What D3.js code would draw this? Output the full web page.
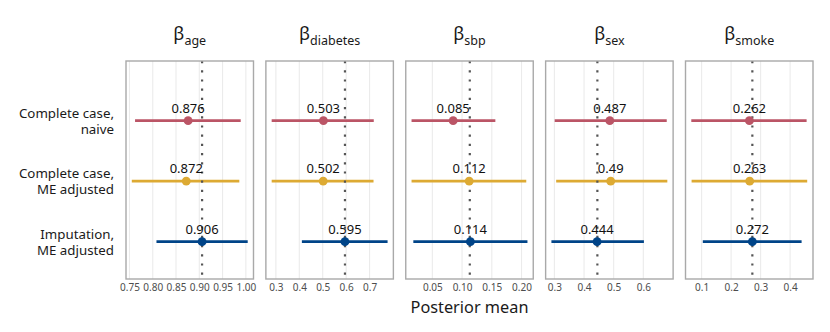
<!DOCTYPE html>
<html>
<head>
<meta charset="utf-8">
<script src="https://cdn.jsdelivr.net/npm/d3@7"></script>
<style>
    body { margin: 0; background: #fff; }
    text { font-family: "Noto Sans", "Open Sans", sans-serif; }
</style>
</head>
<body>
<div class="chart"></div>
<script>
const WIDTH = 830;
const HEIGHT = 332;

// parameters (one facet each)
const params = ["age", "diabetes", "sbp", "sex", "smoke"];

// methods (rows, top to bottom)
const methods = ["cc_naive", "cc_me", "imp_me"];
const methodLabels = [["Complete case,", "naive"], ["Complete case,", "ME adjusted"], ["Imputation,", "ME adjusted"]];
const methodColors = ["#BB5566", "#DDAA33", "#004488"];

// posterior means, per method, in params order
const meanNaive = [0.876, 0.503, 0.085, 0.487, 0.262];
const meanCcMe = [0.872, 0.502, 0.112, 0.49, 0.263];
const meanImpMe = [0.906, 0.595, 0.114, 0.444, 0.272];

// credible interval bounds
const lowerNaive = [0.762, 0.282, 0.015, 0.301, 0.065];
const upperNaive = [0.989, 0.718, 0.156, 0.679, 0.456];
const lowerCcMe = [0.755, 0.282, 0.015, 0.306, 0.066];
const upperCcMe = [0.986, 0.717, 0.208, 0.681, 0.458];
const lowerImpMe = [0.808, 0.411, 0.018, 0.290, 0.104];
const upperImpMe = [1.004, 0.777, 0.210, 0.602, 0.439];

// reference (dotted) values
const trueValues = [0.906, 0.595, 0.113, 0.445, 0.272];

// tick labels per facet
const tickValues = [
    [0.75, 0.80, 0.85, 0.90, 0.95, 1.00],
    [0.3, 0.4, 0.5, 0.6, 0.7],
    [0.05, 0.10, 0.15, 0.20],
    [0.3, 0.4, 0.5, 0.6],
    [0.1, 0.2, 0.3, 0.4]
];
const tickFormats = [".2f", ".1f", ".2f", ".1f", ".1f"];

const means = [meanNaive, meanCcMe, meanImpMe];
const lowers = [lowerNaive, lowerCcMe, lowerImpMe];
const uppers = [upperNaive, upperCcMe, upperImpMe];

const margin = { top: 61, right: 17, bottom: 53, left: 126 };
const panelTop = margin.top;
const panelBottom = HEIGHT - margin.bottom;

const svg = d3.select(".chart").append("svg")
    .attr("width", WIDTH)
    .attr("height", HEIGHT);

const panelScale = d3.scaleBand()
    .domain(params)
    .range([margin.left, WIDTH - margin.right])
    .paddingInner(0.0885);

const yScale = d3.scalePoint()
    .domain(methods)
    .range([120.7, 241.7]);

// row labels on the left, one text per line
methods.forEach((m, r) => {
    methodLabels[r].forEach((line, k) => {
        svg.append("text")
            .attr("x", 114)
            .attr("y", yScale(m) - 3 + k * 15.8)
            .attr("text-anchor", "end")
            .attr("font-size", 13.3)
            .attr("fill", "#1a1a1a")
            .text(line);
    });
});

params.forEach((p, i) => {
    const x0 = panelScale(p);
    const w = panelScale.bandwidth();

    // 5% expansion like ggplot
    const lo = d3.min(lowers, a => a[i]);
    const hi = d3.max(uppers, a => a[i]);
    const pad = (hi - lo) * 0.05;
    const xScale = d3.scaleLinear()
        .domain([lo - pad, hi + pad])
        .range([x0, x0 + w]);

    const g = svg.append("g").attr("class", "panel");

    // grid
    g.selectAll(".grid")
        .data(tickValues[i])
        .enter().append("line")
        .attr("class", "grid")
        .attr("x1", d => xScale(d))
        .attr("x2", d => xScale(d))
        .attr("y1", panelTop)
        .attr("y2", panelBottom)
        .attr("stroke", "#ebebeb")
        .attr("stroke-width", 1.1);

    // x axis tick labels
    const axis = d3.axisBottom(xScale)
        .tickValues(tickValues[i])
        .tickFormat(d3.format(tickFormats[i]))
        .tickSize(0)
        .tickPadding(5);
    const ax = g.append("g")
        .attr("transform", `translate(0, ${panelBottom})`)
        .call(axis);
    ax.select(".domain").remove();
    ax.selectAll("text")
        .attr("font-size", 10)
        .attr("fill", "#4d4d4d")
        .style("font-family", "'Noto Sans', sans-serif");

    // intervals
    methods.forEach((m, r) => {
        g.append("line")
            .attr("x1", xScale(lowers[r][i]))
            .attr("x2", xScale(uppers[r][i]))
            .attr("y1", yScale(m))
            .attr("y2", yScale(m))
            .attr("stroke", methodColors[r])
            .attr("stroke-width", 2.8);
    });

    // reference line
    g.append("line")
        .attr("x1", xScale(trueValues[i]))
        .attr("x2", xScale(trueValues[i]))
        .attr("y1", panelTop)
        .attr("y2", panelBottom)
        .attr("stroke", "#555")
        .attr("stroke-width", 2.2)
        .attr("stroke-dasharray", "2.2,7");

    methods.forEach((m, r) => {
        g.append("circle")
            .attr("cx", xScale(means[r][i]))
            .attr("cy", yScale(m))
            .attr("r", 4.4)
            .attr("fill", methodColors[r]);

        g.append("text")
            .attr("x", xScale(means[r][i]))
            .attr("y", yScale(m) - 8)
            .attr("text-anchor", "middle")
            .attr("font-size", 13)
            .attr("fill", "#111")
            .text(String(means[r][i]));
    });

    // panel border
    g.append("rect")
        .attr("x", x0)
        .attr("y", panelTop)
        .attr("width", w)
        .attr("height", panelBottom - panelTop)
        .attr("fill", "none")
        .attr("stroke", "#a9a9a9")
        .attr("stroke-width", 1.4);

    // facet title
    const title = svg.append("text")
        .attr("x", x0 + w / 2)
        .attr("y", 40)
        .attr("text-anchor", "middle")
        .attr("fill", "#1a1a1a");
    title.append("tspan").attr("font-size", 18).text("β");
    title.append("tspan").attr("font-size", 12.5).attr("dy", 5).text(p);
});

svg.append("text")
    .attr("x", (margin.left + WIDTH - margin.right) / 2)
    .attr("y", 312.5)
    .attr("text-anchor", "middle")
    .attr("font-size", 16.3)
    .attr("fill", "#1a1a1a")
    .text("Posterior mean");
</script>
</body>
</html>
